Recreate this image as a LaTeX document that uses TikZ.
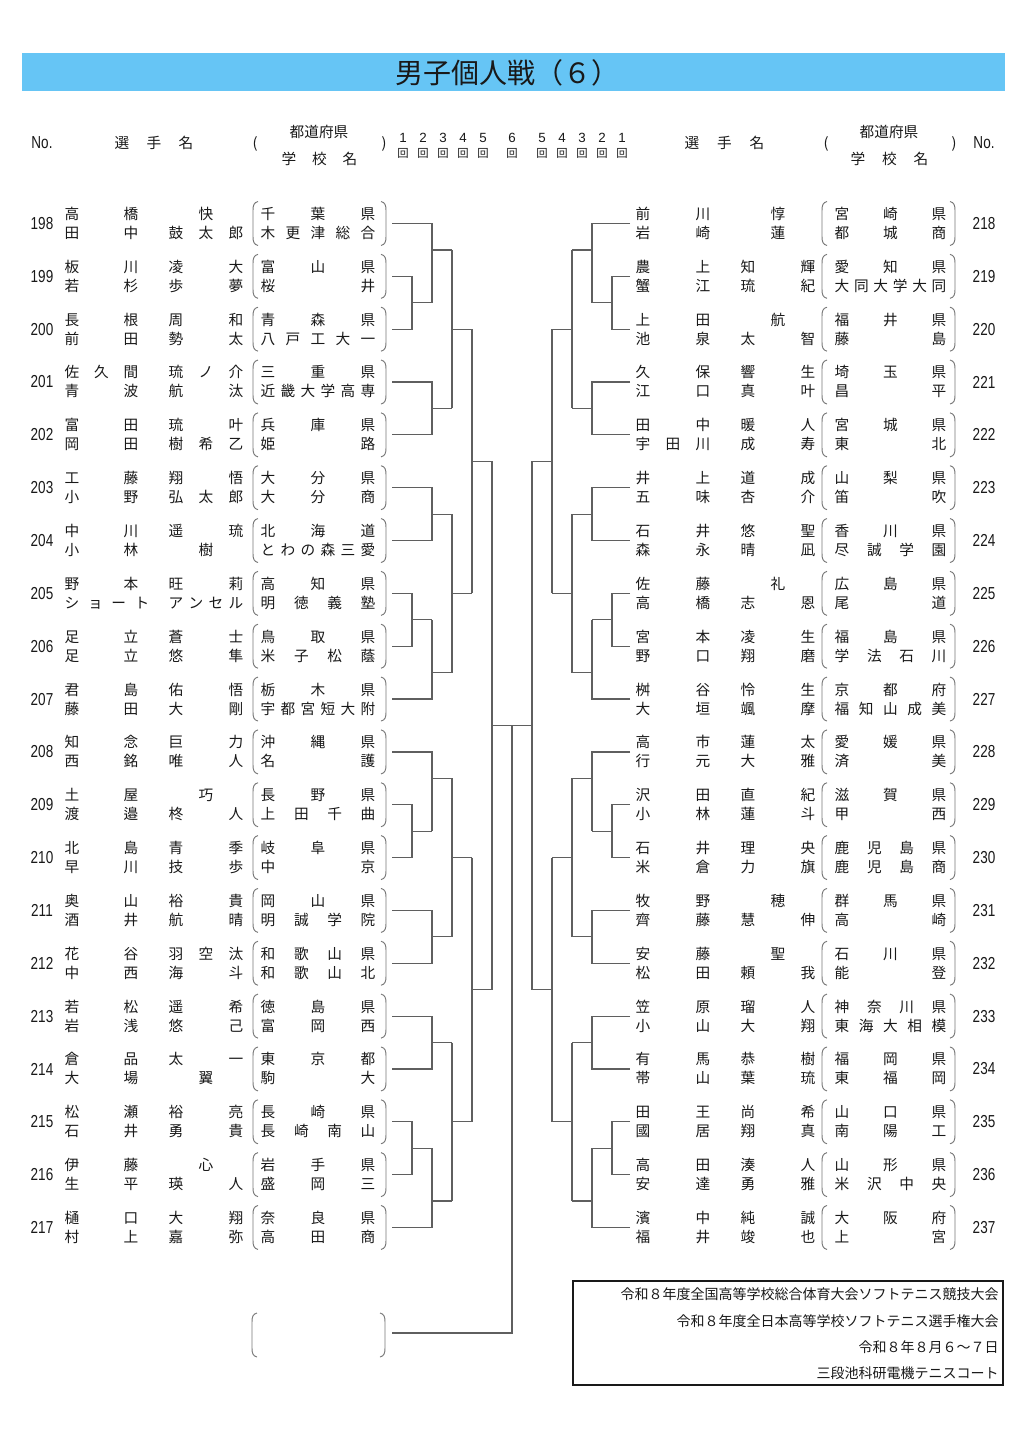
\documentclass[tikz,border=0pt]{standalone}
\usepackage{fontspec}
\setmainfont{Noto Sans CJK JP}
\newfontfamily\latin{Liberation Sans}
\usetikzlibrary{calc}
\definecolor{titleblue}{RGB}{102,197,245}
\definecolor{ink}{RGB}{25,25,25}
\definecolor{linegray}{RGB}{95,95,95}
\definecolor{pargray}{RGB}{120,120,120}
\newcount\tn
\def\SurEnd{131}
\tikzset{
  nm/.style={inner sep=0pt, text=ink, font=\fontsize{11}{11}\selectfont, text height=9.6pt, text depth=1.4pt, anchor=center},
  hd/.style={inner sep=0pt, text=ink, font=\fontsize{11}{11}\selectfont, text height=9.6pt, text depth=1.4pt, anchor=center},
  numst/.style={inner sep=0pt, text=ink, font=\latin\fontsize{13}{13}\selectfont, anchor=center},
  rnd/.style={inner sep=0pt, text=ink, font=\latin\fontsize{10}{10}\selectfont, anchor=center},
  kai/.style={inner sep=0pt, text=ink, font=\fontsize{8.5}{8.5}\selectfont, anchor=center},
  foot/.style={inner sep=0pt, text=ink, font=\fontsize{10.5}{10.5}\selectfont, anchor=east},
  br/.style={draw=linegray, line width=0.9pt},
  par/.style={draw=pargray, line width=0.7pt}
}
\newcommand\spreadtxt[5]{%
  \foreach \c [count=\cn] in {#4} {\xdef\nchars{\cn}}%
  \pgfmathsetmacro\sy{#3}%
  \foreach \c [count=\i] in {#4} {%
    \ifnum\nchars=1 \pgfmathsetmacro\sx{(#1+#2)/2}\else\pgfmathsetmacro\sx{#1+(\i-1)*(#2-#1)/(\nchars-1)}\fi
    \global\advance\tn by 1
    \node[#5] (t\the\tn) at (\sx,\sy) {\c};
  }%
}
\newcommand\parens[3]{%
  \draw[par] ({#1+5},{#3-22}) .. controls ({#1+0.8},{#3-21}) and (#1,{#3-18}) .. (#1,{#3-13}) -- (#1,{#3+13}) .. controls (#1,{#3+18}) and ({#1+0.8},{#3+21}) .. ({#1+5},{#3+22});
  \draw[par] ({#2-5},{#3-22}) .. controls ({#2-0.8},{#3-21}) and (#2,{#3-18}) .. (#2,{#3-13}) -- (#2,{#3+13}) .. controls (#2,{#3+18}) and ({#2-0.8},{#3+21}) .. ({#2-5},{#3+22});
}
\newcommand\lrow[8]{%
  \pgfmathsetmacro\ry{223.5+52.84*#1}%
  \node[numst] (nL#1) at (42,\ry) {\scalebox{0.78}[1]{#2}};
  \spreadtxt{72}{131}{\ry-9.5}{#3}{nm}
  \spreadtxt{176}{236}{\ry-9.5}{#4}{nm}
  \spreadtxt{72}{\SurEnd}{\ry+9.5}{#5}{nm}
  \spreadtxt{176}{236}{\ry+9.5}{#6}{nm}
  \spreadtxt{268}{368}{\ry-9.5}{#7}{nm}
  \spreadtxt{268}{368}{\ry+9.5}{#8}{nm}
  \parens{253}{386}{\ry}
}
\newcommand\rrow[8]{%
  \pgfmathsetmacro\ry{223.5+52.84*#1}%
  \node[numst] (nR#1) at (984,\ry) {\scalebox{0.78}[1]{#2}};
  \spreadtxt{643}{703}{\ry-9.5}{#3}{nm}
  \spreadtxt{748}{808}{\ry-9.5}{#4}{nm}
  \spreadtxt{643}{703}{\ry+9.5}{#5}{nm}
  \spreadtxt{748}{808}{\ry+9.5}{#6}{nm}
  \spreadtxt{842}{939}{\ry-9.5}{#7}{nm}
  \spreadtxt{842}{939}{\ry+9.5}{#8}{nm}
  \parens{822}{955}{\ry}
}
% bracket group of ten rows
\newcommand\brgroup[8]{%
  \foreach \k in {0,...,9}{\pgfmathsetmacro\yk{223.5+52.84*(#2+\k)}\coordinate (#1r\k) at (#3,\yk);}
  \pgfmathsetmacro\gyZ{223.5+52.84*#2}%
  \pgfmathsetmacro\gwA{\gyZ+52.84*1.5}%
  \pgfmathsetmacro\gyA{\gyZ+(\gwA-\gyZ)/3}%
  \pgfmathsetmacro\gyB{\gyZ+52.84*3.5}%
  \pgfmathsetmacro\gyC{(\gyA+\gyB)/2}%
  \pgfmathsetmacro\gyD{\gyZ+52.84*5.5}%
  \pgfmathsetmacro\gwB{\gyZ+52.84*7.5}%
  \pgfmathsetmacro\gyN{\gyZ+52.84*9}%
  \pgfmathsetmacro\gyE{\gyN-(\gyN-\gwB)/3}%
  \pgfmathsetmacro\gyF{(\gyD+\gyE)/2}%
  \pgfmathsetmacro\gyG{(\gyC+\gyF)/2}%
  \coordinate (#1a) at (#4,\gwA); \coordinate (#1b) at (#5,\gwA);
  \coordinate (#1A1) at (#5,\gyA); \coordinate (#1A2) at (#6,\gyA);
  \coordinate (#1B1) at (#5,\gyB); \coordinate (#1B2) at (#6,\gyB);
  \coordinate (#1C1) at (#6,\gyC); \coordinate (#1C2) at (#7,\gyC);
  \coordinate (#1D1) at (#5,\gyD); \coordinate (#1D2) at (#6,\gyD);
  \coordinate (#1c) at (#4,\gwB); \coordinate (#1d) at (#5,\gwB);
  \coordinate (#1E1) at (#5,\gyE); \coordinate (#1E2) at (#6,\gyE);
  \coordinate (#1F1) at (#6,\gyF); \coordinate (#1F2) at (#7,\gyF);
  \coordinate (#1G1) at (#7,\gyG); \coordinate (#1G2) at (#8,\gyG);
  \draw[br] (#1r0) -| (#1b);
  \draw[br] (#1r1) -| (#1a) |- (#1r2);
  \draw[br] (#1a) -- (#1b);
  \draw[br] (#1A1) -- (#1A2);
  \draw[br] (#1r3) -| (#1B1) |- (#1r4);
  \draw[br] (#1B1) -- (#1B2);
  \draw[br] (#1A2) -- (#1B2);
  \draw[br] (#1C1) -- (#1C2);
  \draw[br] (#1r5) -| (#1D1) |- (#1r6);
  \draw[br] (#1D1) -- (#1D2);
  \draw[br] (#1r7) -| (#1c) |- (#1r8);
  \draw[br] (#1c) -- (#1d);
  \draw[br] (#1r9) -| (#1d);
  \draw[br] (#1E1) -- (#1E2);
  \draw[br] (#1D2) -- (#1E2);
  \draw[br] (#1F1) -- (#1F2);
  \draw[br] (#1C2) -- (#1F2);
  \draw[br] (#1G1) -- (#1G2);
}
\begin{document}
\begin{tikzpicture}[x=0.75pt,y=-0.75pt]
\useasboundingbox (0,0) rectangle (1033,1444);
\fill[white] (0,0) rectangle (1033,1444);
% title
\fill[titleblue] (22,53) rectangle (1005,91);
\node[inner sep=0pt, text=ink, font=\fontsize{21}{21}\selectfont] (title) at (507,73) {男子個人戦（６）};
% header left
\node[numst] (hnoL) at (42,143) {\scalebox{0.78}[1]{No.}};
\spreadtxt{122}{186}{143}{選,手,名}{hd}
\node[hd] (hpl1) at (255,143) {(};
\node[hd] (hpref1) at (319,132) {都道府県};
\spreadtxt{289}{350}{159}{学,校,名}{hd}
\node[hd] (hpr1) at (384,143) {)};
% header right
\spreadtxt{692}{757}{143}{選,手,名}{hd}
\node[hd] (hpl2) at (826,143) {(};
\node[hd] (hpref2) at (889,132) {都道府県};
\spreadtxt{858}{921}{159}{学,校,名}{hd}
\node[hd] (hpr2) at (954,143) {)};
\node[numst] (hnoR) at (984,143) {\scalebox{0.78}[1]{No.}};
% rounds
\foreach \x/\t [count=\j] in {403/1,423/2,443/3,463/4,483/5,512/6,542/5,562/4,582/3,602/2,622/1}{
  \node[rnd] (rd\j) at (\x,138) {\t};
  \node[kai] (rk\j) at (\x,153) {回};
}
% left rows
\lrow{0}{198}{高,橋}{快}{田,中}{鼓,太,郎}{千,葉,県}{木,更,津,総,合}
\lrow{1}{199}{板,川}{凌,大}{若,杉}{歩,夢}{富,山,県}{桜,井}
\lrow{2}{200}{長,根}{周,和}{前,田}{勢,太}{青,森,県}{八,戸,工,大,一}
\lrow{3}{201}{佐,久,間}{琉,ノ,介}{青,波}{航,汰}{三,重,県}{近,畿,大,学,高,専}
\lrow{4}{202}{富,田}{琉,叶}{岡,田}{樹,希,乙}{兵,庫,県}{姫,路}
\lrow{5}{203}{工,藤}{翔,悟}{小,野}{弘,太,郎}{大,分,県}{大,分,商}
\lrow{6}{204}{中,川}{遥,琉}{小,林}{樹}{北,海,道}{と,わ,の,森,三,愛}
\def\SurEnd{142}
\lrow{7}{205}{野,本}{旺,莉}{シ,ョ,ー,ト}{ア,ン,セ,ル}{高,知,県}{明,徳,義,塾}
\def\SurEnd{131}
\lrow{8}{206}{足,立}{蒼,士}{足,立}{悠,隼}{鳥,取,県}{米,子,松,蔭}
\lrow{9}{207}{君,島}{佑,悟}{藤,田}{大,剛}{栃,木,県}{宇,都,宮,短,大,附}
\lrow{10}{208}{知,念}{巨,力}{西,銘}{唯,人}{沖,縄,県}{名,護}
\lrow{11}{209}{土,屋}{巧}{渡,邉}{柊,人}{長,野,県}{上,田,千,曲}
\lrow{12}{210}{北,島}{青,季}{早,川}{技,歩}{岐,阜,県}{中,京}
\lrow{13}{211}{奥,山}{裕,貴}{酒,井}{航,晴}{岡,山,県}{明,誠,学,院}
\lrow{14}{212}{花,谷}{羽,空,汰}{中,西}{海,斗}{和,歌,山,県}{和,歌,山,北}
\lrow{15}{213}{若,松}{遥,希}{岩,浅}{悠,己}{徳,島,県}{富,岡,西}
\lrow{16}{214}{倉,品}{太,一}{大,場}{翼}{東,京,都}{駒,大}
\lrow{17}{215}{松,瀬}{裕,亮}{石,井}{勇,貴}{長,崎,県}{長,崎,南,山}
\lrow{18}{216}{伊,藤}{心}{生,平}{瑛,人}{岩,手,県}{盛,岡,三}
\lrow{19}{217}{樋,口}{大,翔}{村,上}{嘉,弥}{奈,良,県}{高,田,商}
% right rows
\rrow{0}{218}{前,川}{惇}{岩,崎}{蓮}{宮,崎,県}{都,城,商}
\rrow{1}{219}{農,上}{知,輝}{蟹,江}{琉,紀}{愛,知,県}{大,同,大,学,大,同}
\rrow{2}{220}{上,田}{航}{池,泉}{太,智}{福,井,県}{藤,島}
\rrow{3}{221}{久,保}{響,生}{江,口}{真,叶}{埼,玉,県}{昌,平}
\rrow{4}{222}{田,中}{暖,人}{宇,田,川}{成,寿}{宮,城,県}{東,北}
\rrow{5}{223}{井,上}{道,成}{五,味}{杏,介}{山,梨,県}{笛,吹}
\rrow{6}{224}{石,井}{悠,聖}{森,永}{晴,凪}{香,川,県}{尽,誠,学,園}
\rrow{7}{225}{佐,藤}{礼}{高,橋}{志,恩}{広,島,県}{尾,道}
\rrow{8}{226}{宮,本}{凌,生}{野,口}{翔,磨}{福,島,県}{学,法,石,川}
\rrow{9}{227}{桝,谷}{怜,生}{大,垣}{颯,摩}{京,都,府}{福,知,山,成,美}
\rrow{10}{228}{高,市}{蓮,太}{行,元}{大,雅}{愛,媛,県}{済,美}
\rrow{11}{229}{沢,田}{直,紀}{小,林}{蓮,斗}{滋,賀,県}{甲,西}
\rrow{12}{230}{石,井}{理,央}{米,倉}{力,旗}{鹿,児,島,県}{鹿,児,島,商}
\rrow{13}{231}{牧,野}{穂}{齊,藤}{慧,伸}{群,馬,県}{高,崎}
\rrow{14}{232}{安,藤}{聖}{松,田}{頼,我}{石,川,県}{能,登}
\rrow{15}{233}{笠,原}{瑠,人}{小,山}{大,翔}{神,奈,川,県}{東,海,大,相,模}
\rrow{16}{234}{有,馬}{恭,樹}{帯,山}{葉,琉}{福,岡,県}{東,福,岡}
\rrow{17}{235}{田,王}{尚,希}{國,居}{翔,真}{山,口,県}{南,陽,工}
\rrow{18}{236}{高,田}{湊,人}{安,達}{勇,雅}{山,形,県}{米,沢,中,央}
\rrow{19}{237}{濱,中}{純,誠}{福,井}{竣,也}{大,阪,府}{上,宮}
% brackets
\brgroup{La}{0}{392}{412}{432}{452}{472}{492}
\brgroup{Lb}{10}{392}{412}{432}{452}{472}{492}
\brgroup{Ra}{0}{630}{612}{592}{572}{552}{532}
\brgroup{Rb}{10}{630}{612}{592}{572}{552}{532}
\draw[br] (LaG2) -- (LbG2);
\draw[br] (RaG2) -- (RbG2);
\coordinate (LH) at (492,725.5);
\coordinate (RH) at (532,725.5);
\coordinate (ctr) at (512,725.5);
\coordinate (champ) at (392,1333);
\draw[br] (LH) -- (RH);
\draw[br] (ctr) |- (champ);
\parens{252}{385}{1335}
% footer box
\draw[ink, line width=1.3pt] (573,1281) rectangle (1003,1385);
\node[foot] (f1) at (999,1294) {令和８年度全国高等学校総合体育大会ソフトテニス競技大会};
\node[foot] (f2) at (999,1321) {令和８年度全日本高等学校ソフトテニス選手権大会};
\node[foot] (f3) at (999,1347) {令和８年８月６～７日};
\node[foot] (f4) at (999,1373) {三段池科研電機テニスコート};
\end{tikzpicture}
\end{document}
